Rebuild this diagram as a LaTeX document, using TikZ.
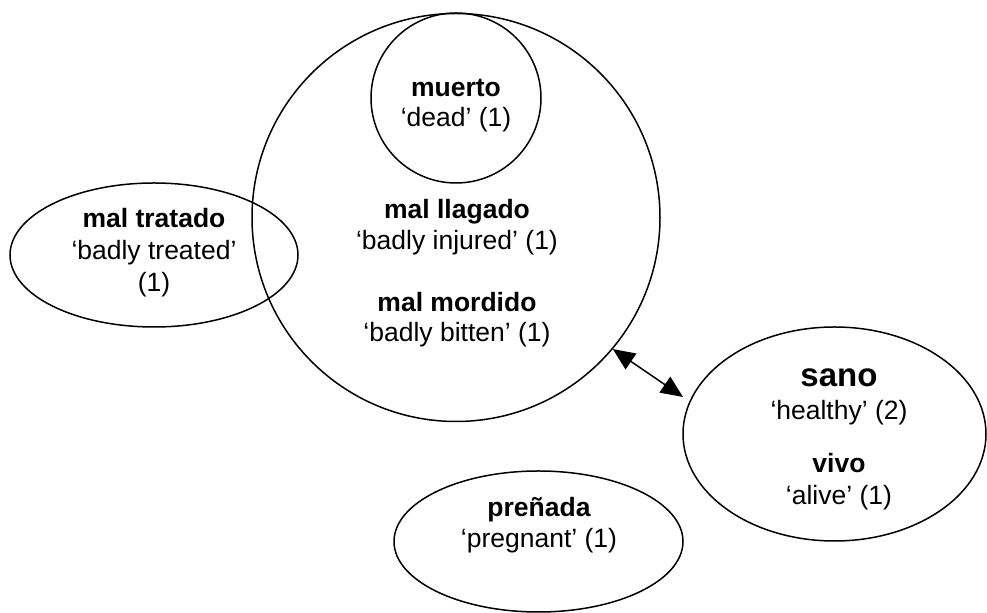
\documentclass[tikz,border=0pt]{standalone}
\usepackage{fontspec}
\setmainfont{Liberation Sans}
\usetikzlibrary{shapes.geometric,arrows.meta,calc}
\begin{document}
\begin{tikzpicture}[x=0.5pt,y=-0.5pt,
  outline/.style={draw=black, line width=0.75pt, inner sep=0pt},
  ell/.style={outline, ellipse},
  circ/.style={outline, circle},
  lbl/.style={anchor=base, inner sep=0pt, font=\fontsize{13.25pt}{15pt}\selectfont},
  head/.style={anchor=base, inner sep=0pt, font=\fontsize{13.25pt}{15pt}\selectfont\bfseries},
  bighead/.style={anchor=base, inner sep=0pt, font=\fontsize{16.5pt}{19pt}\selectfont\bfseries},
  tip/.style={line width=0.75pt, {Triangle[length=11pt,width=9.5pt]}-{Triangle[length=11pt,width=9.5pt]}}
]
\useasboundingbox (0,0) rectangle (987,613);

% shapes
\node[circ, minimum size=204pt] (big) at (456,217.5) {};
\node[circ, minimum size=85pt] (small) at (456,98) {};
\node[ell, minimum width=144pt, minimum height=72pt] (left) at (154,255) {};
\node[ell, minimum width=151.5pt, minimum height=107pt] (sano) at (834.5,434) {};
\node[ell, minimum width=144.5pt, minimum height=70.5pt] (pren) at (538.5,541.5) {};

% texts in small circle
\node[head] (t1) at (456,97) {muerto};
\node[lbl] (t2) at (456,127) {‘dead’ (1)};

% texts in big circle
\node[head] (t3) at (457,219) {mal llagado};
\node[lbl] (t4) at (457,250) {‘badly injured’ (1)};
\node[head] (t5) at (457,312) {mal mordido};
\node[lbl] (t6) at (457,342) {‘badly bitten’ (1)};

% left ellipse
\node[head] (t7) at (154,228) {mal tratado};
\node[lbl] (t8) at (154,260) {‘badly treated’};
\node[lbl] (t9) at (154,292) {(1)};

% sano ellipse
\node[bighead] (t10) at (839,387) {sano};
\node[lbl] (t11) at (839,420) {‘healthy’ (2)};
\node[head] (t12) at (839,473) {vivo};
\node[lbl] (t13) at (839,505) {‘alive’ (1)};

% preñada ellipse
\node[head] (t14) at (539,517) {preñada};
\node[lbl] (t15) at (539,548) {‘pregnant’ (1)};

% arrow
\draw[tip] (big.-40.7) -- ($(sano.center)+(-151.5,-37)$);
\end{tikzpicture}
\end{document}
